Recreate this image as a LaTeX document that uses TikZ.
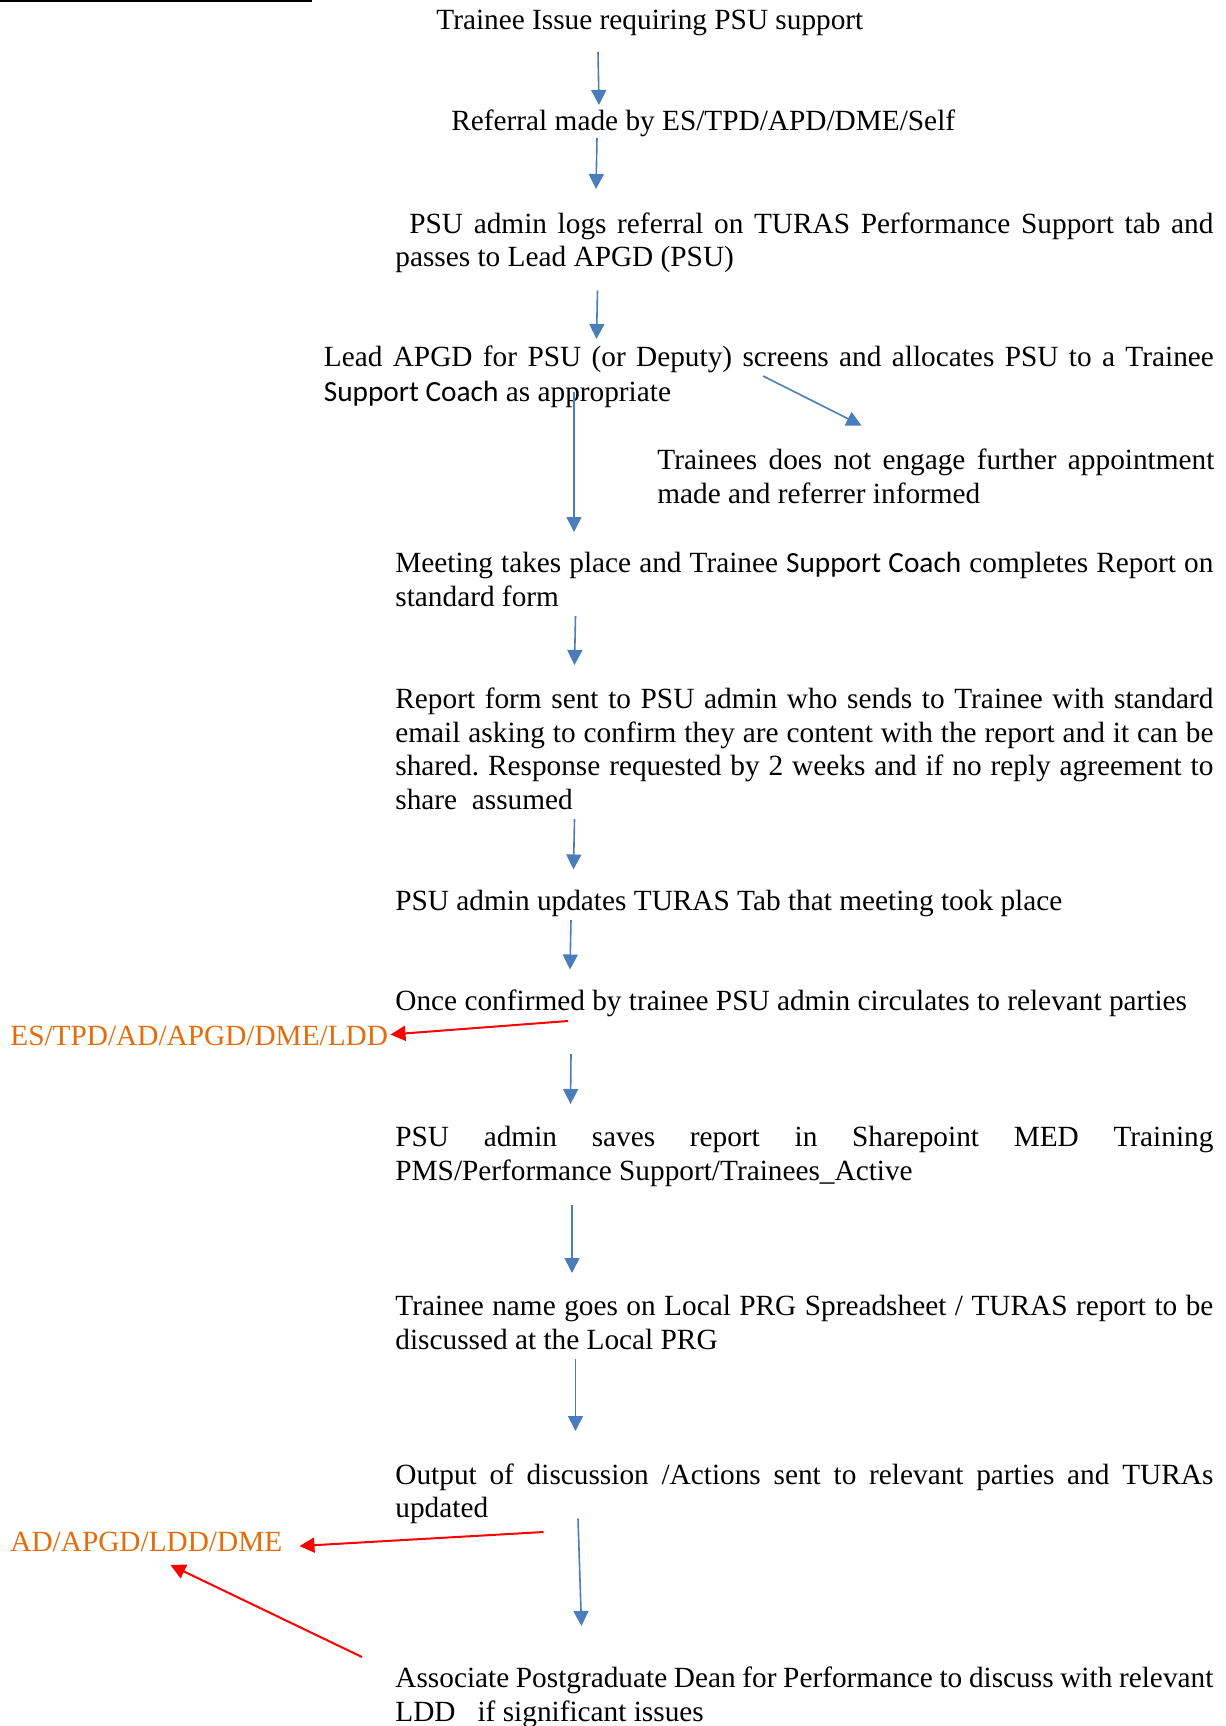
\documentclass[tikz,border=0pt]{standalone}
\usepackage{fontspec}
\setmainfont{Liberation Serif}
\newfontfamily\calibrifont{Carlito}
\usetikzlibrary{arrows.meta}
\definecolor{wordblue}{RGB}{74,126,187}
\definecolor{wordorange}{RGB}{228,108,10}
\definecolor{wordred}{RGB}{255,0,0}
\hyphenpenalty=10000
\exhyphenpenalty=10000
\frenchspacing
\tikzset{
  basefont/.style={font=\fontsize{14.65pt}{16.8pt}\selectfont},
  para/.style={basefont, inner sep=0pt, anchor=base west, text width=#1, align=justify},
  txt/.style={basefont, inner sep=0pt, anchor=base west},
  orangetxt/.style={txt, text=wordorange},
  bluearrow/.style={draw=wordblue, line width=0.8pt, -{Triangle[length=7.5pt,width=7.5pt]}, fill=wordblue},
  redarrow/.style={draw=wordred, line width=1pt, -{Triangle[length=7.5pt,width=7.5pt]}, fill=wordred}
}
\newcommand{\SC}{{\calibrifont Support Coach}}
\begin{document}
\begin{tikzpicture}[x=0.5pt,y=-0.5pt]
\useasboundingbox (0,0) rectangle (1226,1726);
% top rule
\draw[line width=0.8pt] (0,0.8) -- (312,0.8);

% text blocks
\node[txt] (n1) at (436,29.5) {Trainee Issue requiring PSU support};
\node[txt] (n2) at (451,130.5) {Referral made by ES/TPD/APD/DME/Self};
\node[para=409pt] (n3) at (395,233) {\hspace*{7pt}PSU admin logs referral on TURAS Performance Support tab and\linebreak passes to Lead APGD (PSU)};
\node[para=445pt, font=\fontsize{14.65pt}{17.5pt}\selectfont] (n4) at (323.5,366) {Lead APGD for PSU (or Deputy) screens and allocates PSU to a Trainee\linebreak \SC{} as appropriate};
\node[para=278.5pt] (n5) at (657,469.5) {Trainees does not engage further appointment\linebreak made and referrer informed};
\node[para=409pt, font=\fontsize{14.65pt}{17.2pt}\selectfont] (n6) at (395,572) {Meeting takes place and Trainee \SC{} completes Report on\linebreak standard form};
\node[para=409pt] (n7) at (395,708.5) {Report form sent to PSU admin who sends to Trainee with standard\linebreak email asking to confirm they are content with the report and it can be\linebreak shared. Response requested by 2 weeks and if no reply agreement to\linebreak share\ \ assumed};
\node[txt] (n8) at (395,910.5) {PSU admin updates TURAS Tab that meeting took place};
\node[txt] (n9) at (395,1010.5) {Once confirmed by trainee PSU admin circulates to relevant parties};
\node[orangetxt] (o1) at (10,1045.5) {ES/TPD/AD/APGD/DME/LDD};
\node[para=409pt] (n10) at (395,1146.5) {PSU admin saves report in Sharepoint MED Training\linebreak PMS/Performance Support/Trainees\_Active};
\node[para=409pt] (n11) at (395,1315.5) {Trainee name goes on Local PRG Spreadsheet / TURAS report to be\linebreak discussed at the Local PRG};
\node[para=409pt] (n12) at (395,1484) {Output of discussion /Actions sent to relevant parties and TURAs\linebreak updated};
\node[orangetxt] (o2) at (10,1551.5) {AD/APGD/LDD/DME};
\node[para=409pt] (n13) at (395,1687.5) {Associate Postgraduate Dean for Performance to discuss with relevant\linebreak LDD\ \ \ if significant issues};

% connector end points
\coordinate (a1s) at (598,52);     \coordinate (a1e) at (599,105);
\coordinate (a2s) at (597,138);    \coordinate (a2e) at (596,189);
\coordinate (a3s) at (597.5,290.5);\coordinate (a3e) at (596.5,339);
\coordinate (a4s) at (763,376);    \coordinate (a4e) at (861.5,425.5);
\coordinate (a5s) at (574,392);    \coordinate (a5e) at (574,532);
\coordinate (a6s) at (575.5,616);  \coordinate (a6e) at (574.5,665);
\coordinate (a7s) at (574.5,819);  \coordinate (a7e) at (573.5,869.5);
\coordinate (a8s) at (571,920);    \coordinate (a8e) at (570,969.5);
\coordinate (a9s) at (571,1054);   \coordinate (a9e) at (570.5,1104);
\coordinate (a10s) at (572,1205);  \coordinate (a10e) at (572,1273);
\coordinate (a11s) at (575.5,1359);\coordinate (a11e) at (575.5,1431);
\coordinate (a12s) at (578,1518.5);\coordinate (a12e) at (581.5,1626);
\coordinate (r1s) at (568,1021);   \coordinate (r1e) at (390.5,1034.5);
\coordinate (r2s) at (543.5,1532); \coordinate (r2e) at (299.5,1546);
\coordinate (r3s) at (362,1657);   \coordinate (r3e) at (170.5,1565);

% blue connectors
\draw[bluearrow] (a1s) -- (a1e);
\draw[bluearrow] (a2s) -- (a2e);
\draw[bluearrow] (a3s) -- (a3e);
\draw[bluearrow] (a4s) -- (a4e);
\draw[bluearrow] (a5s) -- (a5e);
\draw[bluearrow] (a6s) -- (a6e);
\draw[bluearrow] (a7s) -- (a7e);
\draw[bluearrow] (a8s) -- (a8e);
\draw[bluearrow] (a9s) -- (a9e);
\draw[bluearrow] (a10s) -- (a10e);
\draw[bluearrow] (a11s) -- (a11e);
\draw[bluearrow] (a12s) -- (a12e);
% red connectors
\draw[redarrow] (r1s) -- (r1e);
\draw[redarrow] (r2s) -- (r2e);
\draw[redarrow] (r3s) -- (r3e);
\end{tikzpicture}
\end{document}
